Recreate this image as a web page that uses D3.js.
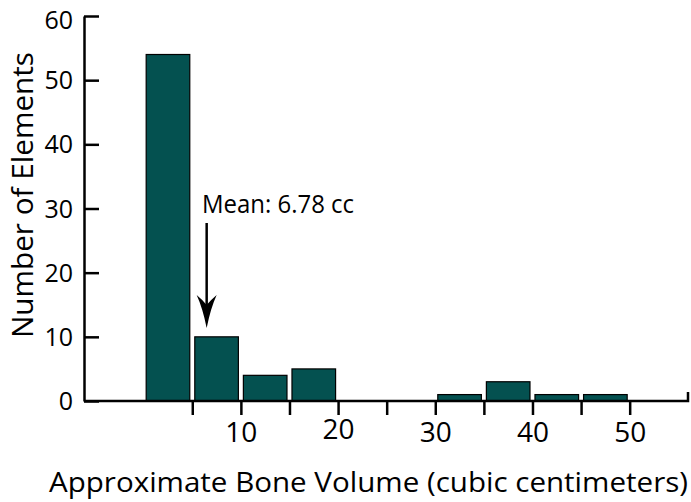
<!DOCTYPE html>
<html>
<head>
<meta charset="utf-8">
<script src="https://cdn.jsdelivr.net/npm/d3@7"></script>
<style>
  html, body { margin: 0; padding: 0; background: #fff; }
  svg { display: block; }
  text { font-family: "Open Sans", "Noto Sans", sans-serif; fill: #000; }
</style>
</head>
<body>
<svg id="chart" width="691" height="502"></svg>
<script>
// ---- data ----
const binStarts = [0, 5, 10, 15, 20, 25, 30, 35, 40, 45];
const binEnds   = [5, 10, 15, 20, 25, 30, 35, 40, 45, 50];
const counts    = [54, 10, 4, 5, 0, 0, 1, 3, 1, 1];
const xTickValues = [5, 10, 15, 20, 25, 30, 35, 40, 45, 50];
const xTickLabels = ["", "10", "", "20", "", "30", "", "40", "", "50"];
const yTickValues = [0, 10, 20, 30, 40, 50, 60];
const meanLabel = "Mean: 6.78 cc";
const meanArrowValue = 6.48;
const xTitle = "Approximate Bone Volume (cubic centimeters)";
const yTitle = "Number of Elements";

const svg = d3.select("#chart");

const x = d3.scaleLinear().domain([-6.14, 56]).range([84, 688]);
const y = d3.scaleLinear().domain([0, 60]).range([401, 16]);

// bars
svg.append("g").selectAll("rect")
  .data(counts.map((c, i) => ({c, s: binStarts[i], e: binEnds[i]})).filter(d => d.c > 0))
  .join("rect")
  .attr("x", d => x(d.s) + 2.5)
  .attr("width", d => x(d.e) - x(d.s) - 5)
  .attr("y", d => y(d.c))
  .attr("height", d => y(0) - y(d.c))
  .attr("fill", "#045150")
  .attr("stroke", "#000")
  .attr("stroke-width", 1.2);

// y axis
const yAxis = d3.axisRight(y).tickValues(yTickValues).tickSize(15).tickSizeOuter(0).tickFormat("");
const gy = svg.append("g").attr("transform", "translate(84,0)").call(yAxis);
gy.selectAll("path, line").attr("stroke", "#000").attr("stroke-width", 2.5);
svg.append("g").selectAll("text")
  .data(yTickValues)
  .join("text")
  .attr("x", 73)
  .attr("y", d => y(d))
  .attr("dy", d => d === 60 ? "12.5px" : "9px")
  .attr("text-anchor", "end")
  .style("font-size", "25px")
  .text(d => d);

// x axis
const xAxis = d3.axisBottom(x).tickValues(xTickValues).tickSize(14).tickSizeOuter(0)
  .tickFormat((d, i) => xTickLabels[i]);
const gx = svg.append("g").attr("transform", "translate(0,401)").call(xAxis);
gx.selectAll("path, line").attr("stroke", "#000").attr("stroke-width", 2.5);
gx.select(".domain").attr("d", `M${x.range()[0]},0H${x.range()[1]}V-9`);
gx.selectAll(".tick text")
  .attr("y", 40.5)
  .attr("dy", d => d === 20 ? "-3px" : "0px")
  .style("font-size", "28px")
  .attr("fill", "#000");

// annotation
svg.append("text")
  .attr("x", 202).attr("y", 213)
  .attr("textLength", 152).attr("lengthAdjust", "spacingAndGlyphs")
  .style("font-size", "25px")
  .text(meanLabel);
const ax = x(meanArrowValue);
svg.append("line")
  .attr("x1", ax).attr("x2", ax)
  .attr("y1", 223).attr("y2", 305)
  .attr("stroke", "#000").attr("stroke-width", 2.5);
svg.append("path")
  .attr("d", `M${ax},328 Q${ax - 4},308 ${ax - 10},295 Q${ax - 4},300 ${ax},305 Q${ax + 4},300 ${ax + 10},295 Q${ax + 4},308 ${ax},328 Z`)
  .attr("fill", "#000");

// titles
svg.append("text")
  .attr("x", 49).attr("y", 492)
  .attr("textLength", 639).attr("lengthAdjust", "spacingAndGlyphs")
  .style("font-size", "28px")
  .text(xTitle);
svg.append("text")
  .attr("transform", "translate(33,338) rotate(-90)")
  .attr("x", 0).attr("y", 0)
  .attr("textLength", 286).attr("lengthAdjust", "spacingAndGlyphs")
  .style("font-size", "29px")
  .text(yTitle);
</script>
</body>
</html>
